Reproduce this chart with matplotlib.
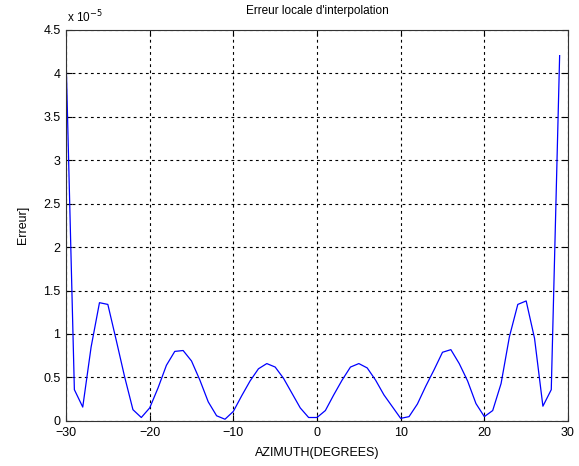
import numpy as np
import matplotlib
matplotlib.use("Agg")
import matplotlib.pyplot as plt

plt.rcParams['font.family'] = ['Liberation Sans', 'DejaVu Sans']

# azimut en degres (pas de 1 degre)
azimuth = np.arange(-30, 30)
# erreur locale (x 1e-5)
erreur = [4.20, 0.36, 0.16, 0.85, 1.36, 1.34, 0.93, 0.51, 0.13, 0.04,
          0.15, 0.38, 0.64, 0.80, 0.81, 0.69, 0.47, 0.22, 0.06, 0.02,
          0.11, 0.29, 0.46, 0.60, 0.66, 0.62, 0.49, 0.32, 0.15, 0.04,
          0.04, 0.12, 0.30, 0.47, 0.62, 0.66, 0.61, 0.47, 0.30, 0.165,
          0.03, 0.05, 0.195, 0.40, 0.59, 0.79, 0.82, 0.66, 0.46, 0.20,
          0.05, 0.12, 0.43, 0.97, 1.34, 1.38, 0.95, 0.17, 0.36, 4.20]

xticks = [-30, -20, -10, 0, 10, 20, 30]
yticks = [0, 0.5, 1, 1.5, 2, 2.5, 3, 3.5, 4, 4.5]
ylabels = ['0', '0.5', '1', '1.5', '2', '2.5', '3', '3.5', '4', '4.5']

fig = plt.figure(figsize=(5.79, 4.66), dpi=100)
ax = fig.add_axes([0.114, 0.0966, 0.867, 0.840])

ax.plot(azimuth, erreur, color='blue', linewidth=0.9)

ax.set_xlim(-30, 30)
ax.set_ylim(0, 4.5)
ax.set_xticks(xticks)
ax.set_yticks(yticks)
ax.set_yticklabels(ylabels)
ax.tick_params(direction='in', top=True, right=True, labelsize=9, length=4, width=0.8)
ax.tick_params(axis='x', pad=4)
ax.tick_params(axis='y', pad=4)
ax.grid(True, color='black', linestyle=(0, (2.5, 3)), linewidth=0.8)
for s in ax.spines.values():
    s.set_linewidth(0.8)
    s.set_color('#333333')

ax.set_title("Erreur locale d'interpolation", fontsize=8.5, pad=11)
ax.set_xlabel('AZIMUTH(DEGREES)', fontsize=9, labelpad=6)
ax.set_ylabel('Erreur]', fontsize=9, labelpad=10)
fig.text(0.116, 0.953, r'x 10$^{-5}$', fontsize=8.5)

fig.savefig('out.png', dpi=100)
